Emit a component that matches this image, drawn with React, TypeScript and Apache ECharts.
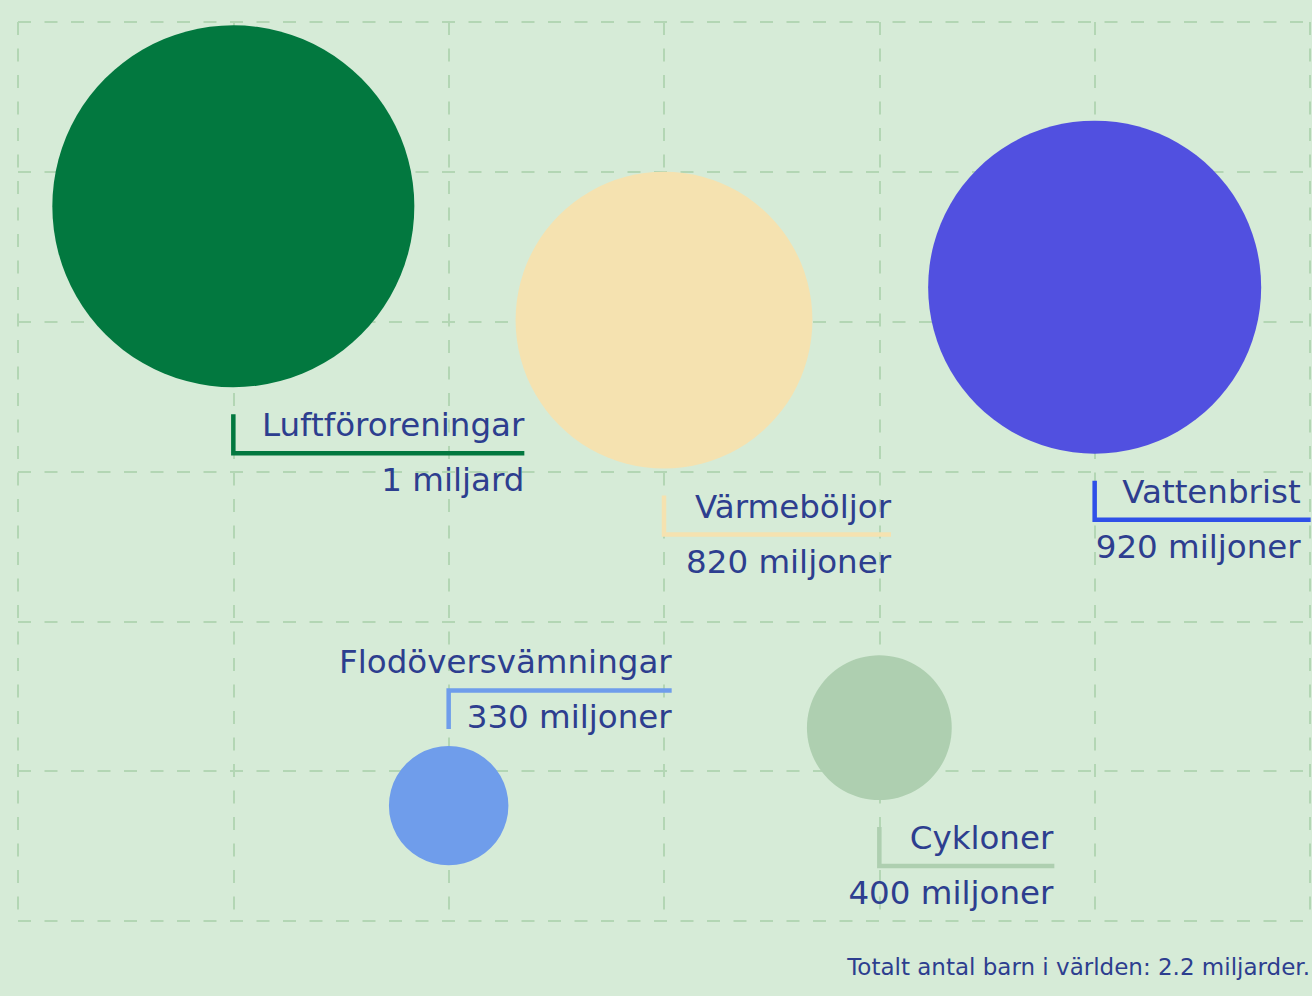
import React, { useEffect, useRef } from 'react';
import * as echarts from 'echarts';

// ---- data ----
const categories = ['Luftföroreningar', 'Värmeböljor', 'Vattenbrist', 'Flodöversvämningar', 'Cykloner'];
const valuesMillions = [1000, 820, 920, 330, 400];
const valueLabels = ['1 miljard', '820 miljoner', '920 miljoner', '330 miljoner', '400 miljoner'];
const xPositions = [1, 3, 5, 2, 4];
const yPositions = [4.77, 4.01, 4.23, 0.77, 1.29];
const footnote = 'Totalt antal barn i världen: 2.2 miljarder.';

// ---- styles / layout ----
const circleColors = ['#02783f', '#f5e2b0', '#5150e0', '#6f9deb', '#aecfb0'];
const bracketColors = ['#02783f', '#f5e2b0', '#2f50e8', '#6f9deb', '#aecfb0'];
const labelLayout = [
  { side: 'below', lineLen: 291, textRight: 291 },
  { side: 'below', lineLen: 227, textRight: 227 },
  { side: 'below', lineLen: 216, textRight: 206 },
  { side: 'above', lineLen: 223, textRight: 223 },
  { side: 'below', lineLen: 175, textRight: 174 },
];
const SIZE_PER_MILLION = 0.362;
const TEXT_COLOR = '#2d3e8f';
const FONT = '"DejaVu Sans", "Noto Sans", sans-serif';
const BG = '#d6ebd7';
const GRID_COLOR = '#b3d6b4';

export default function App() {
  const ref = useRef<HTMLDivElement>(null);

  useEffect(() => {
    if (!ref.current) return;
    const chart = echarts.init(ref.current, undefined, { renderer: 'svg' });
    const seriesData = categories.map((name, i) => ({
      name,
      value: [xPositions[i], yPositions[i], valuesMillions[i]],
      itemStyle: { color: circleColors[i], opacity: 1 },
    }));

    const splitLine = {
      show: true,
      lineStyle: { color: GRID_COLOR, width: 2, type: [13, 13.5] as any },
    };

    chart.setOption({
      animation: false,
      backgroundColor: BG,
      grid: { left: 18, right: 2, top: 22, bottom: 75, containLabel: false },
      xAxis: {
        type: 'value',
        min: 0,
        max: 6,
        interval: 1,
        axisLine: { show: false },
        axisTick: { show: false },
        axisLabel: { show: false },
        splitLine,
      },
      yAxis: {
        type: 'value',
        min: 0,
        max: 6,
        interval: 1,
        axisLine: { show: false },
        axisTick: { show: false },
        axisLabel: { show: false },
        splitLine,
      },
      series: [
        {
          type: 'scatter',
          data: seriesData,
          symbol: 'circle',
          symbolSize: (val: number[]) => val[2] * SIZE_PER_MILLION,
          z: 3,
        },
        {
          type: 'custom',
          coordinateSystem: 'cartesian2d',
          clip: false,
          z: 4,
          data: categories.map((_, i) => [xPositions[i], yPositions[i], valuesMillions[i]]),
          encode: { x: 0, y: 1 },
          renderItem: (params: any, api: any) => {
            const i = params.dataIndex;
            const [cx, cy] = api.coord([api.value(0), api.value(1)]);
            const r = (api.value(2) * SIZE_PER_MILLION) / 2;
            const L = labelLayout[i];
            let points: number[][];
            let lineY: number;
            if (L.side === 'below') {
              lineY = cy + r + 66;
              points = [[cx, cy + r + 27], [cx, lineY], [cx + L.lineLen, lineY]];
            } else {
              lineY = cy - r - 55.5;
              points = [[cx, cy - r - 17], [cx, lineY], [cx + L.lineLen, lineY]];
            }
            const tx = cx + L.textRight;
            const font = `400 32.5px ${FONT}`;
            return {
              type: 'group',
              children: [
                {
                  type: 'polyline',
                  shape: { points },
                  style: { stroke: bracketColors[i], lineWidth: 4.5, fill: 'none', lineJoin: 'miter' },
                },
                {
                  type: 'text',
                  x: tx,
                  y: lineY - 28,
                  style: { text: categories[i], fill: TEXT_COLOR, font, align: 'right', verticalAlign: 'middle' },
                },
                {
                  type: 'text',
                  x: tx,
                  y: lineY + 27,
                  style: { text: valueLabels[i], fill: TEXT_COLOR, font, align: 'right', verticalAlign: 'middle' },
                },
              ],
            };
          },
        },
      ],
      graphic: [
        {
          type: 'text',
          x: 1310,
          y: 967,
          style: {
            text: footnote,
            fill: TEXT_COLOR,
            font: `400 23px ${FONT}`,
            align: 'right',
            verticalAlign: 'middle',
          },
        },
      ],
    });
    return () => chart.dispose();
  }, []);

  return (
    <div
      ref={ref}
      style={{ position: 'absolute', left: 0, top: 0, width: 1312, height: 996 }}
    />
  );
}
